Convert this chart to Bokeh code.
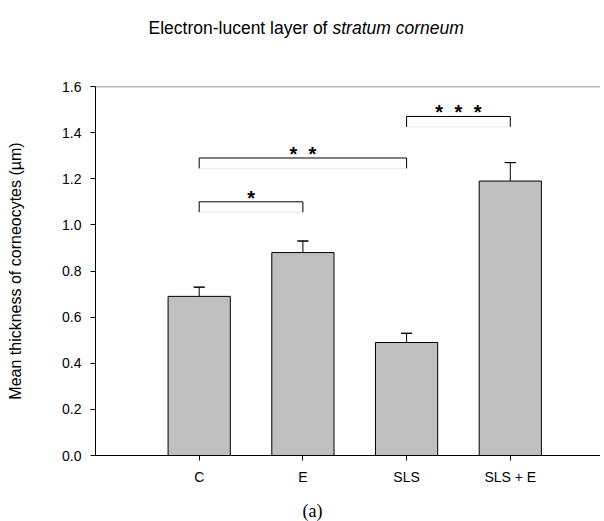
from bokeh.plotting import figure
from bokeh.layouts import column
from bokeh.models import Span, FixedTicker, Range1d, PrintfTickFormatter
from bokeh.core.properties import value
from bokeh.embed import file_html
from bokeh.resources import INLINE

# ---- data ----
groups = ["C", "E", "SLS", "SLS + E"]
means = [0.69, 0.88, 0.49, 1.19]
sem = [0.04, 0.05, 0.04, 0.08]
y_ticks = [0.0, 0.2, 0.4, 0.6, 0.8, 1.0, 1.2, 1.4, 1.6]
# significance brackets: (from group index, to group index, bracket level, stars)
brackets = [(0, 1, 1.10, "*"), (0, 2, 1.29, "**"), (2, 3, 1.47, "***")]
bracket_drop = 0.045
title_plain = "Electron-lucent layer of "
title_italic = "stratum corneum"
panel_label = "(a)"

xpos = [i + 1 for i in range(len(groups))]
W = 600
LEFT = 95


def blank(h):
    # strip whose frame is aligned with the main chart frame (LEFT..W in page pixels)
    f = figure(width=W, height=h, output_backend="svg", toolbar_location=None,
               x_range=Range1d(LEFT, W), y_range=Range1d(h, 0),
               x_axis_type=None, y_axis_type=None,
               min_border_left=LEFT, min_border_right=0, min_border_top=0, min_border_bottom=0)
    f.outline_line_color = None
    f.xgrid.visible = False
    f.ygrid.visible = False
    return f


# ---- title strip ----
tf = blank(60)
tf.text(x=[148], y=[27], text=[title_plain], text_align="left", text_baseline="middle",
        text_font=value("Liberation Sans"), text_font_size="17.5px", text_color="black")
tf.text(x=[332], y=[27], text=[title_italic], text_align="left", text_baseline="middle",
        text_font=value("Liberation Sans"), text_font_size="17.5px", text_font_style="italic",
        text_color="black")

# ---- main chart ----
p = figure(width=W, height=435, output_backend="svg", toolbar_location=None,
           x_range=Range1d(0, 4.87), y_range=Range1d(0, 1.6),
           min_border_left=LEFT, min_border_right=0, min_border_top=26, min_border_bottom=40)
p.outline_line_color = None
p.xgrid.visible = False
p.ygrid.visible = False

p.vbar(x=xpos, top=means, width=0.6, bottom=0, fill_color="#c0c0c0", line_color="black", line_width=1)

tops = [m + s for m, s in zip(means, sem)]
p.segment(x0=xpos, y0=means, x1=xpos, y1=tops, line_color="black", line_width=1)
p.rect(x=xpos, y=tops, width=11, height=0.0001, width_units="screen", line_color="black",
       line_width=1, fill_color=None)

p.add_layout(Span(location=1.6, dimension="width", line_color="#777777", line_width=1.5))

for a, b, lvl, stars in brackets:
    x0, x1 = xpos[a], xpos[b]
    p.line(x=[x0, x1], y=[lvl - bracket_drop, lvl - bracket_drop], line_color="#e8e8e8", line_width=1)
    p.line(x=[x0, x0, x1, x1], y=[lvl - bracket_drop, lvl, lvl, lvl - bracket_drop],
           line_color="black", line_width=1)
    n = len(stars)
    mid = (x0 + x1) / 2
    step = 0.185
    sx = [mid + (k - (n - 1) / 2) * step for k in range(n)]
    p.text(x=sx, y=[lvl + 0.018] * n, text=["*"] * n, text_align="center", text_baseline="middle",
           text_font=value("Liberation Sans"), text_font_size="20px", text_font_style="bold",
           text_color="black")

p.yaxis.ticker = FixedTicker(ticks=y_ticks)
p.yaxis.formatter = PrintfTickFormatter(format="%.1f")
p.xaxis.ticker = FixedTicker(ticks=xpos)
p.xaxis.major_label_overrides = {x: g for x, g in zip(xpos, groups)}
for ax in (p.xaxis, p.yaxis):
    ax.axis_line_color = "black"
    ax.axis_line_width = 1
    ax.major_tick_line_color = "black"
    ax.major_tick_out = 5
    ax.major_tick_in = 0
    ax.minor_tick_line_color = None
    ax.major_label_text_font = "Liberation Sans"
    ax.major_label_text_font_size = "14px"
    ax.major_label_text_color = "black"
p.xaxis.major_label_standoff = 8
p.yaxis.major_label_standoff = 9
p.yaxis.axis_label = "Mean thickness of corneocytes (µm)"
p.yaxis.axis_label_text_font = "Liberation Sans"
p.yaxis.axis_label_text_font_size = "16px"
p.yaxis.axis_label_text_font_style = "normal"
p.yaxis.axis_label_text_color = "black"
p.yaxis.axis_label_standoff = 35

# ---- panel label strip ----
bf = blank(26)
bf.text(x=[312], y=[15], text=[panel_label], text_align="center", text_baseline="middle",
        text_font=value("Liberation Serif"), text_font_size="18px", text_color="black")

layout = column(tf, p, bf, spacing=0)
open("out.html", "w").write(file_html(layout, INLINE))
